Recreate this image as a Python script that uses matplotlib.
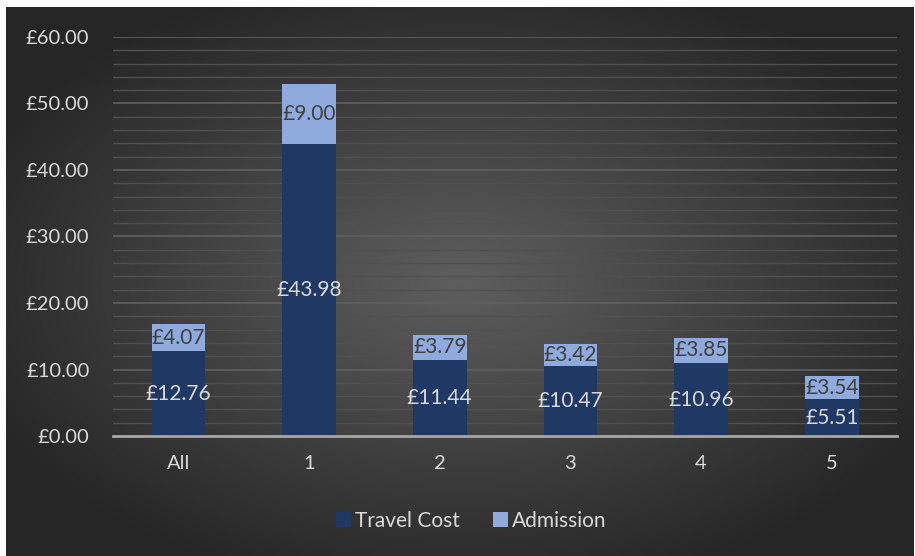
import numpy as np
import matplotlib.pyplot as plt
from matplotlib.ticker import MultipleLocator, FuncFormatter

plt.rcParams['font.family'] = ['Lato', 'DejaVu Sans']

groups = ['All', '1', '2', '3', '4', '5']
travel = [12.76, 43.98, 11.44, 10.47, 10.96, 5.51]
admission = [4.07, 9.00, 3.79, 3.42, 3.85, 3.54]

fig = plt.figure(figsize=(9.15, 5.56), dpi=100, facecolor='white')

# chart area with radial background shading
bg = fig.add_axes([6 / 915, 0, 908 / 915, 549 / 556], zorder=-10)
yy, xx = np.mgrid[-1:1:300j, -1:1:500j]
r = np.sqrt((xx * 0.95) ** 2 + (yy * 0.95) ** 2)
shade = np.clip(0.37 - 0.2 * r, 0.15, 0.37)
bg.imshow(np.dstack([shade] * 3), extent=[0, 1, 0, 1], aspect='auto')
bg.axis('off')

ax = fig.add_axes([0.1235, 0.2158, 0.8570, 0.7177])
ax.patch.set_alpha(0)

x = np.arange(len(groups))
w = 0.41
b1 = ax.bar(x, travel, w, color='#203864', label='Travel Cost', zorder=3)
b2 = ax.bar(x, admission, w, bottom=travel, color='#8faadc', label='Admission', zorder=3)

for i in range(len(groups)):
    ax.text(x[i], travel[i] / 2, '£%.2f' % travel[i], ha='center', va='center',
            color='#d9d9d9', fontsize=15, zorder=4)
    ax.text(x[i], travel[i] + admission[i] / 2, '£%.2f' % admission[i], ha='center',
            va='center', color='#404040', fontsize=15, zorder=4)

ax.set_xlim(-0.5, 5.5)
ax.set_ylim(0, 60)
ax.yaxis.set_major_locator(MultipleLocator(10))
ax.yaxis.set_minor_locator(MultipleLocator(2))
ax.yaxis.set_major_formatter(FuncFormatter(lambda v, p: '£%.2f' % v))
ax.grid(axis='y', which='major', color='#606060', linewidth=1.2, zorder=0)
ax.grid(axis='y', which='minor', color='#505050', linewidth=1.0, zorder=0)
ax.set_axisbelow(True)

for s in ['top', 'right', 'left']:
    ax.spines[s].set_visible(False)
ax.spines['bottom'].set_color('#a6a6a6')
ax.spines['bottom'].set_linewidth(2)
ax.spines['bottom'].set_zorder(5)

ax.set_xticks(x)
ax.set_xticklabels(groups)
ax.tick_params(axis='both', which='both', length=0, colors='#d9d9d9', labelsize=14.5)
ax.tick_params(axis='x', pad=14)
ax.tick_params(axis='y', pad=17)

fig.legend(handles=[b1, b2], loc='center', bbox_to_anchor=(0.515, 0.063), ncol=2,
           frameon=False, fontsize=15, labelcolor='#d9d9d9', handlelength=0.7,
           handleheight=0.7, handletextpad=0.2, columnspacing=1.6)

fig.savefig('out.png', dpi=100, facecolor='white')
